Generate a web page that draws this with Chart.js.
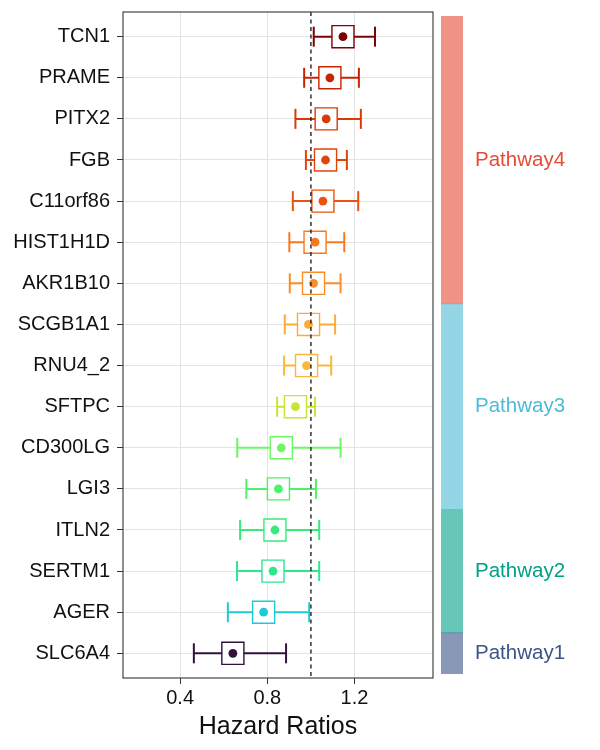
<!DOCTYPE html>
<html>
<head>
<meta charset="utf-8">
<script src="https://cdn.jsdelivr.net/npm/chart.js@4"></script>
<style>
  html, body { margin: 0; padding: 0; background: #fff; }
  #wrap { position: relative; width: 600px; height: 750px; }
  #main { position: absolute; left: 0; top: 0; }
  #bar { position: absolute; left: 430px; top: 0; }
</style>
</head>
<body>
<div id="wrap">
  <canvas id="main" width="600" height="750"></canvas>
  <canvas id="bar" width="170" height="750"></canvas>
</div>
<script>
'use strict'

// genes, top to bottom
let genes = ["TCN1", "PRAME", "PITX2", "FGB", "C11orf86", "HIST1H1D", "AKR1B10", "SCGB1A1",
    "RNU4_2", "SFTPC", "CD300LG", "LGI3", "ITLN2", "SERTM1", "AGER", "SLC6A4"];
let hazardRatio = [1.147, 1.087, 1.070, 1.067, 1.055, 1.019, 1.012, 0.989,
    0.980, 0.929, 0.864, 0.851, 0.835, 0.826, 0.783, 0.642];
let lowerCI = [1.013, 0.969, 0.929, 0.977, 0.917, 0.901, 0.903, 0.880,
    0.877, 0.845, 0.662, 0.704, 0.675, 0.661, 0.619, 0.463];
let upperCI = [1.294, 1.220, 1.229, 1.165, 1.217, 1.153, 1.136, 1.111,
    1.093, 1.019, 1.136, 1.023, 1.038, 1.038, 0.992, 0.886];
let geneColors = ["#7A0403", "#C42503", "#DB3A07", "#E1440A", "#E8530E", "#F8781D", "#FC8C28", "#FDAB34",
    "#F9B83A", "#CBE331", "#6DF863", "#4BF26A", "#35EC7A", "#2DE68E", "#1FCAD6", "#30123B"];

let xTicks = [0.4, 0.8, 1.2];
let refLine = 1;

// pathway bar, bottom to top
let pathways = ["Pathway1", "Pathway2", "Pathway3", "Pathway4"];
let pathwaySizes = [1, 3, 5, 7];
let pathwayColors = ["#3C5488", "#00A087", "#4DBBD5", "#E64B35"];

Chart.defaults.font.family = "'Liberation Sans', Arial, sans-serif";
Chart.defaults.color = "#111";

let datasets = [];
genes.forEach(function (gene, i) {
    let y = i + 1;
    let c = geneColors[i];
    datasets.push({
        data: [{ x: lowerCI[i], y: y }, { x: upperCI[i], y: y }],
        showLine: true,
        borderColor: c,
        borderWidth: 2,
        pointStyle: "line",
        rotation: 90,
        pointRadius: 10,
        pointBorderColor: c,
        pointBorderWidth: 2,
        order: 3,
    });
    datasets.push({
        data: [{ x: hazardRatio[i], y: y }],
        pointStyle: "rect",
        pointRadius: 15.6,
        pointBackgroundColor: "#fff",
        pointBorderColor: c,
        pointBorderWidth: 1.4,
        order: 2,
    });
    datasets.push({
        data: [{ x: hazardRatio[i], y: y }],
        pointStyle: "circle",
        pointRadius: 4.4,
        pointBackgroundColor: c,
        pointBorderWidth: 0,
        order: 1,
    });
});
datasets.push({
    data: [{ x: refLine, y: 0.4 }, { x: refLine, y: genes.length + 0.6 }],
    showLine: true,
    borderColor: "#222",
    borderWidth: 1.4,
    borderDash: [4, 3.5],
    pointRadius: 0,
    order: 0,
});

let panelBorder = {
    id: "panelBorder",
    afterDatasetsDraw(chart) {
        let a = chart.chartArea;
        let ctx = chart.ctx;
        ctx.save();
        ctx.strokeStyle = "#333";
        ctx.lineWidth = 1.1;
        ctx.strokeRect(a.left, a.top, a.right - a.left, a.bottom - a.top);
        ctx.restore();
    },
};

let chart1 = new Chart(document.getElementById("main").getContext("2d"), {
    type: "scatter",
    data: { datasets: datasets },
    options: {
        responsive: false,
        animation: false,
        events: [],
        layout: { autoPadding: false, padding: { top: 12, right: 167, left: 0, bottom: 0 } },
        plugins: { legend: { display: false }, tooltip: { enabled: false } },
        scales: {
            x: {
                min: 0.138,
                max: 1.56,
                afterBuildTicks: function (axis) {
                    axis.ticks = xTicks.map(function (v) { return { value: v }; });
                },
                afterFit: function (axis) {
                    axis.height = 72;
                    axis.paddingLeft = 0;
                    axis.paddingRight = 0;
                },
                ticks: {
                    padding: 2,
                    font: { size: 20 },
                    color: "#111",
                    callback: function (v) { return v.toFixed(1); },
                },
                grid: { color: "#E3E3E3", lineWidth: 1, tickLength: 6, tickColor: "#333", tickWidth: 1 },
                border: { display: false },
                title: {
                    display: true,
                    text: "Hazard Ratios",
                    font: { size: 25 },
                    color: "#111",
                    padding: { top: 2, bottom: 8 },
                },
            },
            y: {
                reverse: true,
                min: 0.4,
                max: genes.length + 0.6,
                afterBuildTicks: function (axis) {
                    axis.ticks = genes.map(function (g, i) { return { value: i + 1 }; });
                },
                afterFit: function (axis) {
                    axis.width = 123;
                    axis.paddingTop = 0;
                    axis.paddingBottom = 0;
                },
                ticks: {
                    padding: 7,
                    font: { size: 20, lineHeight: 0.2 },
                    color: "#111",
                    callback: function (v) { return genes[v - 1]; },
                },
                grid: { color: "#E3E3E3", lineWidth: 1, tickLength: 6, tickColor: "#333", tickWidth: 1 },
                border: { display: false },
            },
        },
    },
    plugins: [panelBorder],
});

let pathwayLabels = {
    id: "pathwayLabels",
    afterDatasetsDraw(chart) {
        let ctx = chart.ctx;
        ctx.save();
        ctx.font = "20.5px 'Liberation Sans', Arial, sans-serif";
        ctx.textAlign = "left";
        ctx.textBaseline = "middle";
        chart.data.datasets.forEach(function (ds, k) {
            let bar = chart.getDatasetMeta(k).data[0];
            ctx.fillStyle = pathwayColors[k];
            ctx.fillText(pathways[k], chart.chartArea.right + 12, (bar.y + bar.base) / 2);
        });
        ctx.restore();
    },
};

let chart2 = new Chart(document.getElementById("bar").getContext("2d"), {
    type: "bar",
    data: {
        labels: ["pathway"],
        datasets: pathways.map(function (p, k) {
            return {
                label: p,
                data: [pathwaySizes[k]],
                backgroundColor: pathwayColors[k] + "99",
                borderWidth: 0,
                barPercentage: 1,
                categoryPercentage: 1,
            };
        }),
    },
    options: {
        responsive: false,
        animation: false,
        events: [],
        layout: { padding: { left: 11, right: 137, top: 16, bottom: 76 } },
        plugins: { legend: { display: false }, tooltip: { enabled: false } },
        scales: {
            x: { display: false, stacked: true },
            y: { display: false, stacked: true, min: 0, max: 16 },
        },
    },
    plugins: [pathwayLabels],
});
</script>
</body>
</html>
